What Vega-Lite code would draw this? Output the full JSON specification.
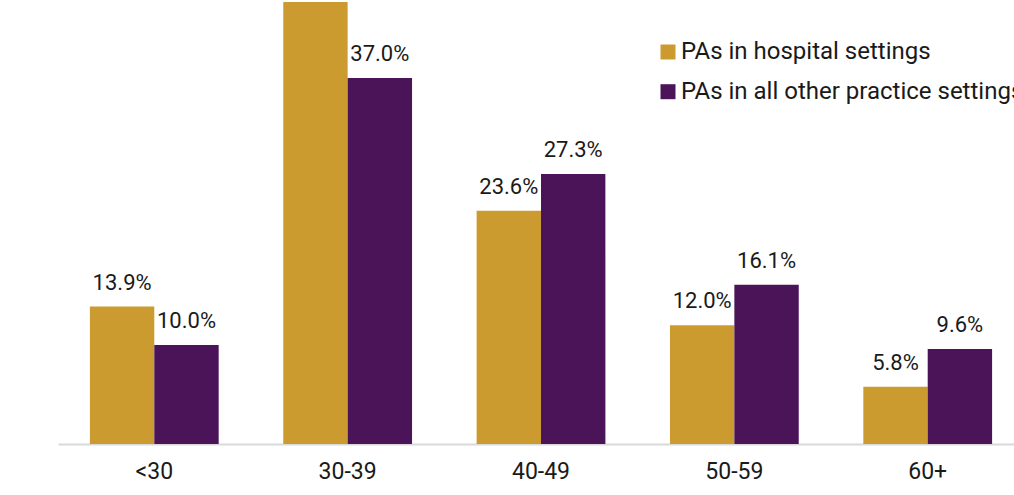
{
  "$schema": "https://vega.github.io/schema/vega-lite/v6.json",
  "autosize": {"type": "none"},
  "width": 966,
  "height": 444,
  "padding": {"left": 58, "top": 0, "right": 0, "bottom": 51},
  "background": "#ffffff",
  "config": {
    "view": {"stroke": null},
    "font": "Roboto"
  },
  "data": {
    "values": [
      {"age": "<30", "setting": "PAs in hospital settings", "pct": 13.9, "label": "13.9%", "shown": true},
      {"age": "<30", "setting": "PAs in all other practice settings", "pct": 10.0, "label": "10.0%", "shown": true},
      {"age": "30-39", "setting": "PAs in hospital settings", "pct": 44.7, "label": "44.7%", "shown": false},
      {"age": "30-39", "setting": "PAs in all other practice settings", "pct": 37.0, "label": "37.0%", "shown": true},
      {"age": "40-49", "setting": "PAs in hospital settings", "pct": 23.6, "label": "23.6%", "shown": true},
      {"age": "40-49", "setting": "PAs in all other practice settings", "pct": 27.3, "label": "27.3%", "shown": true},
      {"age": "50-59", "setting": "PAs in hospital settings", "pct": 12.0, "label": "12.0%", "shown": true},
      {"age": "50-59", "setting": "PAs in all other practice settings", "pct": 16.1, "label": "16.1%", "shown": true},
      {"age": "60+", "setting": "PAs in hospital settings", "pct": 5.8, "label": "5.8%", "shown": true},
      {"age": "60+", "setting": "PAs in all other practice settings", "pct": 9.6, "label": "9.6%", "shown": true}
    ]
  },
  "encoding": {
    "x": {
      "field": "age", "type": "nominal", "sort": ["<30", "30-39", "40-49", "50-59", "60+"],
      "scale": {"paddingInner": 0.334, "paddingOuter": 0.165},
      "axis": {
        "title": null, "labelAngle": 0, "ticks": false, "domainColor": "#d9d9d9", "domainWidth": 2,
        "labelFontSize": 23, "labelColor": "#1a1a1a", "labelPadding": 16, "grid": false
      }
    },
    "xOffset": {
      "field": "setting", "type": "nominal",
      "sort": ["PAs in hospital settings", "PAs in all other practice settings"],
      "scale": {"paddingInner": 0, "paddingOuter": 0}
    },
    "y": {
      "field": "pct", "type": "quantitative",
      "scale": {"domain": [0, 44.9], "nice": false, "zero": true},
      "axis": null
    }
  },
  "layer": [
    {
      "mark": {"type": "bar", "clip": false},
      "encoding": {
        "color": {
          "field": "setting", "type": "nominal",
          "sort": ["PAs in hospital settings", "PAs in all other practice settings"],
          "scale": {"range": ["#CC9B2F", "#4B1459"]},
          "legend": {
            "title": null, "orient": "none", "legendX": 598, "legendY": 40,
            "symbolType": "square", "symbolSize": 225, "symbolStrokeWidth": 0,
            "labelFontSize": 24, "labelColor": "#1a1a1a", "labelOffset": 1,
            "rowPadding": 15.7, "labelLimit": 500
          }
        }
      }
    },
    {
      "transform": [{"filter": "datum.shown"}],
      "mark": {"type": "text", "baseline": "alphabetic", "dy": -17, "fontSize": 22, "color": "#1a1a1a"},
      "encoding": {"text": {"field": "label"}}
    }
  ]
}
